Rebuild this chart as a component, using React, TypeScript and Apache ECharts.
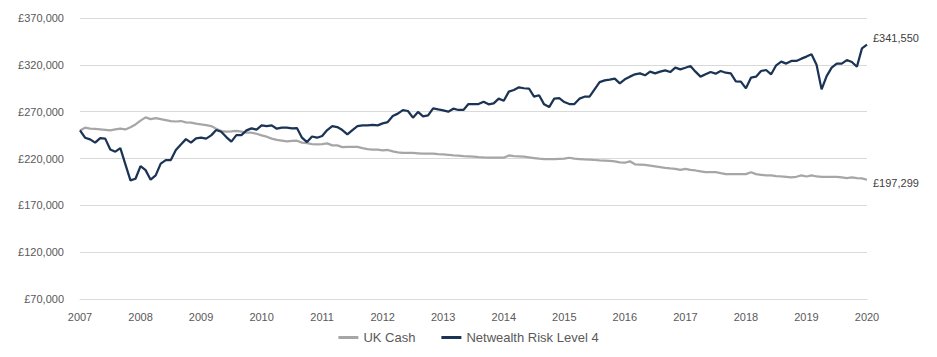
import React, { useEffect, useRef } from "react";
import * as echarts from "echarts";

const startYear = 2007;
const yearTicks = [2007, 2008, 2009, 2010, 2011, 2012, 2013, 2014, 2015, 2016, 2017, 2018, 2019, 2020];
const seriesNames = ["UK Cash", "Netwealth Risk Level 4"];

const cashValues = [
  250000, 252900, 252000, 251500, 251000, 250500, 250000, 251000, 252000, 251000, 253400, 256400,
  260400, 263900, 262100, 263000, 262000, 261000, 260000, 259500, 260000, 258500, 258300, 257300,
  256400, 255700, 254600, 251800, 249300, 248600, 249000, 249600, 248600, 247500, 247500, 246400,
  244700, 243300, 241200, 239800, 239100, 238400, 238700, 239000, 237000, 236300, 235400, 235000,
  235400, 236100, 234000, 234000, 232200, 232500, 232500, 232500, 231100, 230100, 229400, 229400,
  228700, 229100, 227600, 226600, 225900, 225900, 225900, 225500, 225100, 225100, 225100, 224700,
  224400, 224000, 223300, 223000, 222600, 222300, 221900, 221500, 221200, 221000, 220900, 220900,
  220900, 223300, 222600, 222300, 221900, 221200, 220500, 219800, 219400, 219400, 219400, 219600,
  219800, 220800, 219800, 219400, 219000, 218700, 218400, 218000, 217700, 217400, 217000, 215900,
  215500, 217000, 213800, 213500, 213100, 212400, 211700, 210900, 210100, 209500, 209000, 207900,
  209000, 207900, 207200, 206300, 205400, 205400, 205400, 204300, 203300, 203300, 203300, 203300,
  203300, 205400, 203300, 202600, 201900, 201900, 201200, 200800, 200500, 199800, 200500, 201900,
  200800, 201900, 200800, 200500, 200500, 200500, 200500, 199800, 199100, 199800, 199100, 198700,
  197299,
];

const riskValues = [
  250000, 242200, 240400, 236900, 241800, 241200, 229700, 227300, 231100, 213700, 196600, 198400,
  211900, 207600, 197400, 202000, 214500, 218300, 218300, 229000, 235000, 240700, 236900, 241500,
  242200, 241200, 244700, 250400, 248600, 242900, 238000, 245000, 245000, 250000, 252200, 250800,
  255400, 254600, 255400, 251800, 252900, 252900, 252200, 252500, 242200, 237500, 243500, 242200,
  244000, 250400, 254600, 253600, 250400, 245800, 250400, 254600, 255400, 255400, 256000, 255400,
  257500, 258900, 265300, 267900, 271700, 270700, 263600, 269700, 265000, 266000, 273500, 272400,
  271400, 270000, 273200, 271800, 271800, 278100, 278100, 278100, 280700, 277800, 278800, 283900,
  281700, 291400, 293100, 296000, 295000, 294700, 286000, 287500, 277800, 274900, 283900, 284500,
  280300, 278100, 278100, 283900, 286000, 286000, 293800, 301600, 303400, 304200, 305300, 300200,
  304500, 307400, 309900, 310900, 308800, 312700, 310900, 312700, 314100, 312300, 317000, 315200,
  316900, 318700, 312700, 307400, 309900, 312300, 310600, 313400, 311600, 310900, 302400, 302000,
  294900, 306300, 307400, 313400, 314500, 309900, 319500, 323400, 321300, 324100, 324100, 326600,
  328800, 331200, 320000, 293800, 308000, 317000, 321300, 321300, 325100, 323000, 318000, 337600,
  341550,
];

const fmtGBP = (v: number) => "£" + Math.round(v).toLocaleString("en-GB");

export default function App() {
  const ref = useRef<HTMLDivElement>(null);
  useEffect(() => {
    if (!ref.current) return;
    const chart = echarts.init(ref.current, undefined, { renderer: "svg" });
    const toData = (arr: number[]) => arr.map((v, i) => [startYear + i / 12, v]);
    const font = "Liberation Sans, Arial, sans-serif";
    chart.setOption({
      animation: false,
      textStyle: { fontFamily: font },
      grid: { left: 80, right: 70, top: 18, bottom: 58, containLabel: false },
      legend: {
        bottom: 8,
        left: "center",
        itemWidth: 20,
        itemHeight: 3,
        itemGap: 26,
        icon: "rect",
        textStyle: { fontSize: 13, color: "#595959", fontFamily: font },
        data: seriesNames,
      },
      xAxis: {
        type: "value",
        min: yearTicks[0],
        max: yearTicks[yearTicks.length - 1],
        interval: 1,
        axisLine: { show: true, lineStyle: { color: "#d9d9d9", width: 1 } },
        axisTick: { show: false },
        splitLine: { show: false },
        axisLabel: {
          color: "#595959",
          fontSize: 11,
          margin: 12,
          formatter: (v: number) => String(Math.round(v)),
        },
      },
      yAxis: {
        type: "value",
        min: 70000,
        max: 370000,
        interval: 50000,
        axisLine: { show: false },
        axisTick: { show: false },
        splitLine: { lineStyle: { color: "#d9d9d9", width: 1 } },
        axisLabel: { color: "#595959", fontSize: 11, margin: 16, formatter: fmtGBP },
      },
      series: [
        {
          name: seriesNames[0],
          type: "line",
          data: toData(cashValues),
          symbol: "none",
          lineStyle: { color: "#a6a6a6", width: 2.25 },
          itemStyle: { color: "#a6a6a6" },
          endLabel: {
            show: true,
            formatter: (p: any) => fmtGBP(p.value[1]),
            color: "#404040",
            fontSize: 11,
            distance: 6,
            offset: [0, 3],
          },
        },
        {
          name: seriesNames[1],
          type: "line",
          data: toData(riskValues),
          symbol: "none",
          lineStyle: { color: "#1b3354", width: 2.25 },
          itemStyle: { color: "#1b3354" },
          endLabel: {
            show: true,
            formatter: (p: any) => fmtGBP(p.value[1]),
            color: "#404040",
            fontSize: 11,
            distance: 6,
            offset: [0, -7],
          },
        },
      ],
    });
    return () => chart.dispose();
  }, []);
  return <div ref={ref} style={{ width: 937, height: 357, margin: -8 }} />;
}
